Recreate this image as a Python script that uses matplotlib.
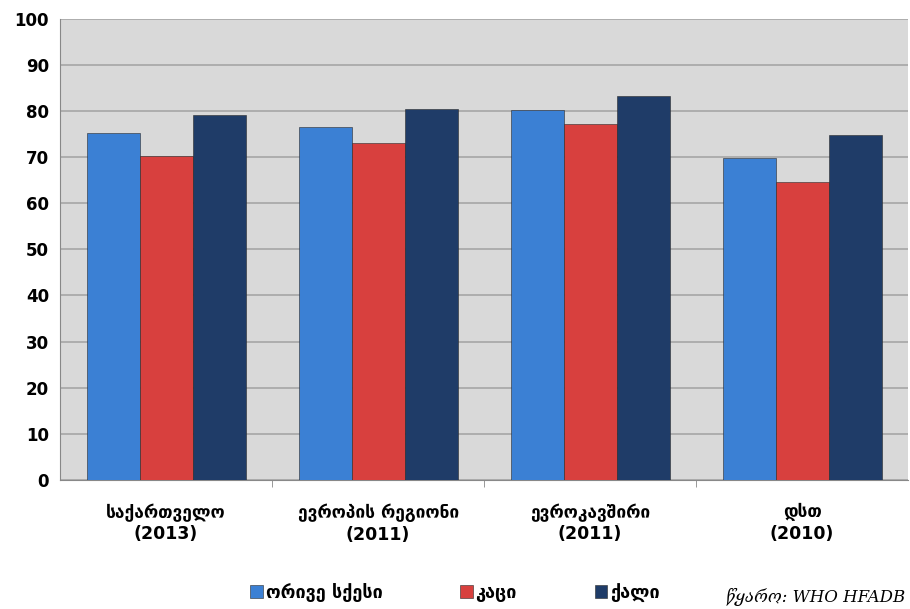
import numpy as np
import matplotlib
matplotlib.use("Agg")
import matplotlib.pyplot as plt

plt.rcParams['font.family'] = ['DejaVu Sans']

categories = ["საქართველო\n(2013)", "ევროპის რეგიონი\n(2011)", "ევროკავშირი\n(2011)", "დსთ\n(2010)"]
series_names = ["ორივე სქესი", "კაცი", "ქალი"]
both = [75.3, 76.6, 80.3, 69.8]
men = [70.3, 73.1, 77.2, 64.6]
women = [79.2, 80.5, 83.3, 74.8]
colors = ["#3b80d4", "#d8403e", "#1f3c68"]

fig = plt.figure(figsize=(9.1, 6.09), dpi=100)
ax = fig.add_axes([0.066, 0.212, 0.932, 0.757])
ax.set_facecolor("#d9d9d9")

x = np.arange(len(categories))
w = 0.25
for i, (vals, c, name) in enumerate(zip([both, men, women], colors, series_names)):
    ax.bar(x + (i - 1) * w, vals, w, color=c, edgecolor="#2a2a2a", linewidth=0.4,
           label=name, zorder=3)

ax.set_xlim(-0.5, len(categories) - 0.5)
ax.set_ylim(0, 100)
ax.set_yticks(range(0, 101, 10))
ax.tick_params(axis='y', labelsize=12, length=0, pad=8)
for t in ax.get_yticklabels():
    t.set_fontweight('bold')
ax.yaxis.grid(True, color="#a6a6a6", linewidth=1.2, zorder=0)

ax.set_xticks(x)
ax.set_xticklabels(categories, fontsize=12.5, fontweight='bold', linespacing=1.25)
ax.tick_params(axis='x', length=0, pad=17)
ax.set_xticks(np.arange(0.5, len(categories) - 0.5), minor=True)
ax.tick_params(axis='x', which='minor', length=5, color="#888888")

for s in ["top", "right"]:
    ax.spines[s].set_visible(False)
ax.spines["left"].set_color("#888888")
ax.spines["bottom"].set_color("#888888")

leg = fig.legend(loc="lower center", bbox_to_anchor=(0.5, -0.015), ncol=3, frameon=False,
                 fontsize=13, handlelength=0.7, handleheight=0.7, handletextpad=0.15,
                 columnspacing=4.3)
for t in leg.get_texts():
    t.set_fontweight('bold')

fig.text(0.995, 0.005, "წყარო: WHO HFADB", ha="right", va="bottom", fontsize=12,
         style="italic", family=["DejaVu Serif", "DejaVu Sans"])

fig.savefig("out.png", dpi=100)
